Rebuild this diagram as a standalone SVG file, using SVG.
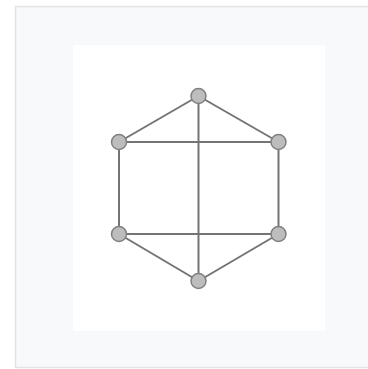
<svg xmlns="http://www.w3.org/2000/svg" width="368" height="369" viewBox="0 0 368 369">
<style>
.edge{stroke:#747474;stroke-width:2;fill:none}
.node{fill:#bdbdbd;stroke:#808080;stroke-width:1.5}
</style>
<rect x="0" y="0" width="368" height="369" fill="#ffffff"/>
<rect x="15.5" y="6.5" width="360" height="361" fill="#f8f9fa" stroke="#e2e4e7" stroke-width="1.5"/>
<rect x="73" y="45" width="252" height="286" fill="#ffffff"/>
<g id="connectors">
<line class="edge" x1="198.5" y1="96" x2="119" y2="142"/>
<line class="edge" x1="198.5" y1="96" x2="278.5" y2="142"/>
<line class="edge" x1="198.5" y1="96" x2="198.5" y2="281"/>
<line class="edge" x1="119" y1="142" x2="278.5" y2="142"/>
<line class="edge" x1="119" y1="142" x2="119" y2="234"/>
<line class="edge" x1="278.5" y1="142" x2="278.5" y2="234"/>
<line class="edge" x1="119" y1="234" x2="278.5" y2="234"/>
<line class="edge" x1="119" y1="234" x2="198.5" y2="281"/>
<line class="edge" x1="278.5" y1="234" x2="198.5" y2="281"/>
</g>
<g id="n1"><circle class="node" cx="198.5" cy="96" r="7.5"/></g>
<g id="n2"><circle class="node" cx="119" cy="142" r="7.5"/></g>
<g id="n3"><circle class="node" cx="278.5" cy="142" r="7.5"/></g>
<g id="n4"><circle class="node" cx="119" cy="234" r="7.5"/></g>
<g id="n5"><circle class="node" cx="278.5" cy="234" r="7.5"/></g>
<g id="n6"><circle class="node" cx="198.5" cy="281" r="7.5"/></g>
</svg>
